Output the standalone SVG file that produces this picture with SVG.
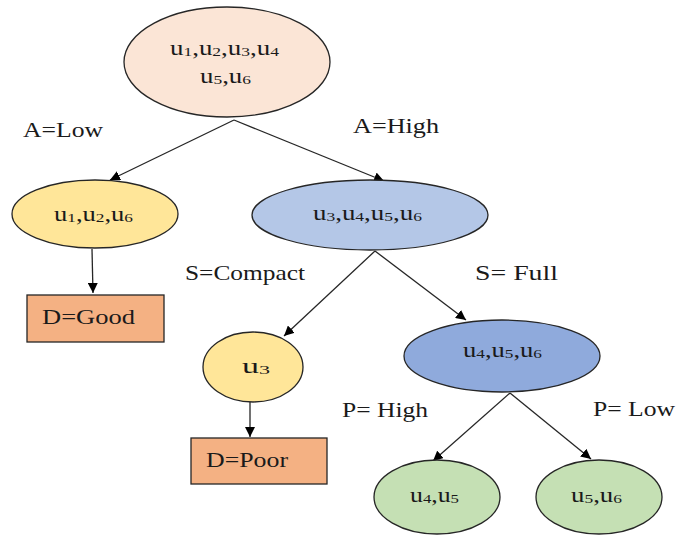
<svg xmlns="http://www.w3.org/2000/svg" width="676" height="536" viewBox="0 0 676 536">
<style>
.n{stroke:#262626;stroke-width:1.3}
.t{font-size:20px;fill:#1a1a1a}
.l{font-size:21px;fill:#1a1a1a}
.s{font-size:13px}
.c{stroke:#262626;stroke-width:1.3;fill:none;marker-end:url(#a)}
</style>
<defs>
<marker id="a" viewBox="0 0 10 10" refX="10" refY="5" markerWidth="10" markerHeight="10" markerUnits="userSpaceOnUse" orient="auto">
<path d="M0,0 L10,5 L0,10 z" fill="#000"/>
</marker>
</defs>
<rect width="676" height="536" fill="#fff"/>
<g id="connectors">
<line class="c" x1="234" y1="120" x2="110" y2="180"/>
<line class="c" x1="234" y1="120" x2="384" y2="181"/>
<line class="c" x1="92" y1="249" x2="93" y2="293"/>
<line class="c" x1="375" y1="251" x2="284" y2="336"/>
<line class="c" x1="375" y1="251" x2="466" y2="320"/>
<line class="c" x1="250" y1="402" x2="250" y2="437"/>
<line class="c" x1="510" y1="393" x2="433" y2="461"/>
<line class="c" x1="510" y1="393" x2="591" y2="459"/>
</g>
<g font-family="'Liberation Serif', 'DejaVu Serif', serif">
<g id="labels">
<text class="l" x="23" y="137" textLength="80" lengthAdjust="spacingAndGlyphs">A=Low</text>
<text class="l" x="353" y="133" textLength="86" lengthAdjust="spacingAndGlyphs">A=High</text>
<text class="l" x="185" y="280" textLength="120" lengthAdjust="spacingAndGlyphs">S=Compact</text>
<text class="l" x="475" y="280" textLength="83" lengthAdjust="spacingAndGlyphs">S= Full</text>
<text class="l" x="342" y="417" textLength="86" lengthAdjust="spacingAndGlyphs">P= High</text>
<text class="l" x="593" y="416" textLength="82" lengthAdjust="spacingAndGlyphs">P= Low</text>
</g>
<g id="root">
<ellipse class="n" cx="227" cy="62" rx="103" ry="55" fill="#FBE5D6"/>
<text class="t" x="170" y="55" textLength="109" lengthAdjust="spacingAndGlyphs">u<tspan class="s" dy="1">1</tspan><tspan dy="-1">,u</tspan><tspan class="s" dy="1">2</tspan><tspan dy="-1">,u</tspan><tspan class="s" dy="1">3</tspan><tspan dy="-1">,u</tspan><tspan class="s" dy="1">4</tspan></text>
<text class="t" x="200" y="83" textLength="51" lengthAdjust="spacingAndGlyphs">u<tspan class="s" dy="1">5</tspan><tspan dy="-1">,u</tspan><tspan class="s" dy="1">6</tspan></text>
</g>
<g id="n126">
<ellipse class="n" cx="95" cy="214" rx="83" ry="34" fill="#FFE699"/>
<text class="t" x="54" y="221" textLength="79" lengthAdjust="spacingAndGlyphs">u<tspan class="s" dy="1">1</tspan><tspan dy="-1">,u</tspan><tspan class="s" dy="1">2</tspan><tspan dy="-1">,u</tspan><tspan class="s" dy="1">6</tspan></text>
</g>
<g id="n3456">
<ellipse class="n" cx="370" cy="215" rx="118" ry="35" fill="#B4C7E7"/>
<text class="t" x="313" y="220" textLength="109" lengthAdjust="spacingAndGlyphs">u<tspan class="s" dy="1">3</tspan><tspan dy="-1">,u</tspan><tspan class="s" dy="1">4</tspan><tspan dy="-1">,u</tspan><tspan class="s" dy="1">5</tspan><tspan dy="-1">,u</tspan><tspan class="s" dy="1">6</tspan></text>
</g>
<g id="good">
<rect class="n" x="27" y="295" width="137" height="47" fill="#F4B183"/>
<text class="l" x="42" y="324" textLength="93" lengthAdjust="spacingAndGlyphs">D=Good</text>
</g>
<g id="n3">
<ellipse class="n" cx="253" cy="367" rx="50" ry="35" fill="#FFE699"/>
<text class="t" x="242" y="373" textLength="28" lengthAdjust="spacingAndGlyphs">u<tspan class="s" dy="1">3</tspan></text>
</g>
<g id="n456">
<ellipse class="n" cx="502" cy="356" rx="98" ry="36" fill="#8FAADC"/>
<text class="t" x="463" y="357" textLength="79" lengthAdjust="spacingAndGlyphs">u<tspan class="s" dy="1">4</tspan><tspan dy="-1">,u</tspan><tspan class="s" dy="1">5</tspan><tspan dy="-1">,u</tspan><tspan class="s" dy="1">6</tspan></text>
</g>
<g id="poor">
<rect class="n" x="191" y="438" width="136" height="46" fill="#F4B183"/>
<text class="l" x="206" y="467" textLength="82" lengthAdjust="spacingAndGlyphs">D=Poor</text>
</g>
<g id="n45">
<ellipse class="n" cx="437" cy="497" rx="63" ry="37" fill="#C5E0B4"/>
<text class="t" x="410" y="502" textLength="49" lengthAdjust="spacingAndGlyphs">u<tspan class="s" dy="1">4</tspan><tspan dy="-1">,u</tspan><tspan class="s" dy="1">5</tspan></text>
</g>
<g id="n56">
<ellipse class="n" cx="599" cy="497" rx="63" ry="37" fill="#C5E0B4"/>
<text class="t" x="571" y="502" textLength="51" lengthAdjust="spacingAndGlyphs">u<tspan class="s" dy="1">5</tspan><tspan dy="-1">,u</tspan><tspan class="s" dy="1">6</tspan></text>
</g>
</g>
</svg>
